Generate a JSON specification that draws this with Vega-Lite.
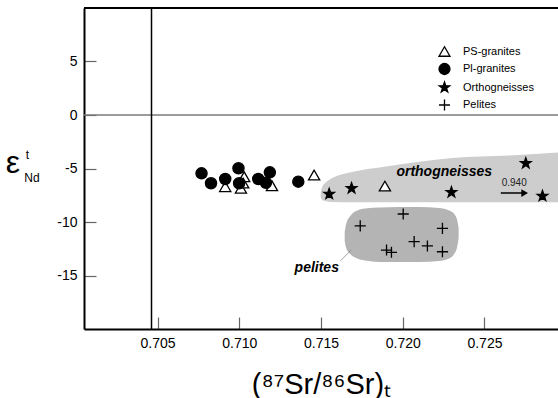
{
  "$schema": "https://vega.github.io/schema/vega-lite/v6.json",
  "width": 474,
  "height": 321,
  "autosize": {"type": "none"},
  "padding": {"left": 84, "top": 8, "right": 0, "bottom": 69},
  "background": "white",
  "config": {
    "view": {"stroke": null},
    "font": "Liberation Sans",
    "axis": {
      "domainColor": "black",
      "domainWidth": 2,
      "tickColor": "#666666",
      "tickWidth": 1.2,
      "tickSize": -12,
      "ticks": true,
      "labelFontSize": 14,
      "labelColor": "black",
      "labelFont": "Liberation Sans",
      "grid": false
    }
  },
  "datasets": {
    "band": [
      {"x": 0.71498, "y": -7.29, "y2": -7.66},
      {"x": 0.71507, "y": -6.73, "y2": -7.94},
      {"x": 0.71532, "y": -6.26, "y2": -8.06},
      {"x": 0.71569, "y": -5.89, "y2": -8.13},
      {"x": 0.71691, "y": -5.33, "y2": -8.15},
      {"x": 0.71899, "y": -4.81, "y2": -8.15},
      {"x": 0.72303, "y": -4.02, "y2": -8.15},
      {"x": 0.72712, "y": -3.74, "y2": -8.15},
      {"x": 0.7295, "y": -3.5, "y2": -8.15}
    ],
    "blob": [
      {"x": 0.71645, "y": -10.93, "y2": -11.78},
      {"x": 0.71654, "y": -10.19, "y2": -12.43},
      {"x": 0.71679, "y": -9.44, "y2": -12.99},
      {"x": 0.71715, "y": -8.97, "y2": -13.36},
      {"x": 0.7177, "y": -8.74, "y2": -13.6},
      {"x": 0.71856, "y": -8.64, "y2": -13.74},
      {"x": 0.721, "y": -8.6, "y2": -13.74},
      {"x": 0.72222, "y": -8.69, "y2": -13.64},
      {"x": 0.72284, "y": -8.93, "y2": -13.41},
      {"x": 0.72315, "y": -9.25, "y2": -12.99},
      {"x": 0.72333, "y": -9.81, "y2": -12.34},
      {"x": 0.72342, "y": -10.56, "y2": -11.5}
    ],
    "points": [
      {"type": "PS-granites", "x": 0.70914, "y": -6.7},
      {"type": "PS-granites", "x": 0.7103, "y": -5.77},
      {"type": "PS-granites", "x": 0.7101, "y": -6.85},
      {"type": "PS-granites", "x": 0.71024, "y": -6.36},
      {"type": "PS-granites", "x": 0.712, "y": -6.61},
      {"type": "PS-granites", "x": 0.71458, "y": -5.61},
      {"type": "PS-granites", "x": 0.71891, "y": -6.64},
      {"type": "Pl-granites", "x": 0.70769, "y": -5.45},
      {"type": "Pl-granites", "x": 0.70827, "y": -6.38},
      {"type": "Pl-granites", "x": 0.70914, "y": -5.98},
      {"type": "Pl-granites", "x": 0.70995, "y": -4.98},
      {"type": "Pl-granites", "x": 0.70999, "y": -6.38},
      {"type": "Pl-granites", "x": 0.71116, "y": -5.98},
      {"type": "Pl-granites", "x": 0.71187, "y": -5.36},
      {"type": "Pl-granites", "x": 0.71163, "y": -6.33},
      {"type": "Pl-granites", "x": 0.71361, "y": -6.23},
      {"type": "Orthogneisses", "x": 0.7155, "y": -7.38},
      {"type": "Orthogneisses", "x": 0.71687, "y": -6.85},
      {"type": "Orthogneisses", "x": 0.72298, "y": -7.22},
      {"type": "Orthogneisses", "x": 0.72753, "y": -4.51},
      {"type": "Orthogneisses", "x": 0.72855, "y": -7.57},
      {"type": "Pelites", "x": 0.72003, "y": -9.25},
      {"type": "Pelites", "x": 0.7174, "y": -10.37},
      {"type": "Pelites", "x": 0.72243, "y": -10.59},
      {"type": "Pelites", "x": 0.7207, "y": -11.84},
      {"type": "Pelites", "x": 0.72151, "y": -12.24},
      {"type": "Pelites", "x": 0.71901, "y": -12.62},
      {"type": "Pelites", "x": 0.71931, "y": -12.83},
      {"type": "Pelites", "x": 0.72243, "y": -12.78}
    ],
    "labels": [
      {"text": "orthogneisses", "x": 0.72254, "y": -5.3},
      {"text": "pelites", "x": 0.71474, "y": -14.3}
    ]
  },
  "layer": [
    {
      "data": {"name": "band"},
      "mark": {"type": "area", "interpolate": "monotone", "fill": "#cdcdcd", "opacity": 1},
      "encoding": {
        "x": {
          "field": "x", "type": "quantitative",
          "scale": {"domain": [0.7005, 0.7295], "nice": false, "zero": false},
          "axis": {
            "values": [0.705, 0.71, 0.715, 0.72, 0.725],
            "format": ".3f",
            "labelPadding": 19,
            "title": "(⁸⁷Sr/⁸⁶Sr)ₜ",
            "titleFont": "Liberation Sans",
            "titleFontSize": 29,
            "titleFontWeight": "normal",
            "titleColor": "black",
            "titleBaseline": "alphabetic",
            "titleY": 64
          }
        },
        "y": {
          "field": "y", "type": "quantitative",
          "scale": {"domain": [-20, 10], "nice": false, "zero": false},
          "axis": {
            "values": [5, 0, -5, -10, -15],
            "labelExpr": "'' + datum.value",
            "labelPadding": 19,
            "title": null
          }
        },
        "y2": {"field": "y2"}
      }
    },
    {
      "data": {"name": "blob"},
      "mark": {"type": "area", "interpolate": "monotone", "fill": "#b4b4b4", "opacity": 1},
      "encoding": {
        "x": {"field": "x", "type": "quantitative"},
        "y": {"field": "y", "type": "quantitative"},
        "y2": {"field": "y2"}
      }
    },
    {
      "data": {"values": [{"y": 0}]},
      "mark": {"type": "rule", "color": "#7a7a7a", "strokeWidth": 1.5},
      "encoding": {"y": {"field": "y", "type": "quantitative"}}
    },
    {
      "data": {"values": [{"x": 0.70463}]},
      "mark": {"type": "rule", "color": "black", "strokeWidth": 1.5},
      "encoding": {"x": {"field": "x", "type": "quantitative"}}
    },
    {
      "data": {"values": [{"y": 10}]},
      "mark": {"type": "rule", "color": "black", "strokeWidth": 2},
      "encoding": {"y": {"field": "y", "type": "quantitative"}}
    },
    {
      "data": {"values": [{"x": 0.71618, "y": -13.64, "x2": 0.71685, "y2": -12.62}]},
      "mark": {"type": "rule", "color": "#888888", "strokeWidth": 0.8},
      "encoding": {
        "x": {"field": "x", "type": "quantitative"},
        "y": {"field": "y", "type": "quantitative"},
        "x2": {"field": "x2"},
        "y2": {"field": "y2"}
      }
    },
    {
      "data": {"name": "points"},
      "mark": {"type": "point", "stroke": "black", "strokeWidth": 1.3, "size": 125, "opacity": 1},
      "encoding": {
        "x": {"field": "x", "type": "quantitative"},
        "y": {"field": "y", "type": "quantitative"},
        "shape": {
          "field": "type", "type": "nominal",
          "scale": {
            "domain": ["PS-granites", "Pl-granites", "Orthogneisses", "Pelites"],
            "range": ["triangle-up", "circle", "M0,-1L0.235,-0.324L0.951,-0.309L0.38,0.124L0.588,0.809L0,0.4L-0.588,0.809L-0.38,0.124L-0.951,-0.309L-0.235,-0.324Z", "M-1,0L1,0M0,-1L0,1"]
          },
          "legend": {
            "title": null,
            "orient": "none",
            "legendX": 354,
            "legendY": 37,
            "padding": 0,
            "labelFontSize": 11,
            "labelFont": "Liberation Sans",
            "labelColor": "black",
            "labelOffset": 12,
            "rowPadding": 1.5,
            "symbolSize": 120,
            "symbolStrokeColor": "black",
            "symbolStrokeWidth": 1.3,
            "symbolOpacity": 1,
            "encode": {"symbols": {"update": {"stroke": {"value": "black"}, "strokeWidth": {"value": 1.3}}}}
          }
        },
        "fill": {
          "field": "type", "type": "nominal",
          "scale": {
            "domain": ["PS-granites", "Pl-granites", "Orthogneisses", "Pelites"],
            "range": ["white", "black", "black", "transparent"]
          },
          "legend": {
            "title": null,
            "orient": "none",
            "legendX": 354,
            "legendY": 37,
            "padding": 0,
            "labelFontSize": 11,
            "labelFont": "Liberation Sans",
            "labelColor": "black",
            "labelOffset": 12,
            "rowPadding": 1.5,
            "symbolSize": 120,
            "symbolStrokeColor": "black",
            "symbolStrokeWidth": 1.3,
            "symbolOpacity": 1,
            "encode": {"symbols": {"update": {"stroke": {"value": "black"}, "strokeWidth": {"value": 1.3}}}}
          }
        }
      }
    },
    {
      "data": {"name": "labels"},
      "mark": {"type": "text", "fontSize": 14, "fontWeight": "bold", "fontStyle": "italic", "font": "Liberation Sans", "color": "black", "baseline": "middle", "align": "center"},
      "encoding": {
        "x": {"field": "x", "type": "quantitative"},
        "y": {"field": "y", "type": "quantitative"},
        "text": {"field": "text"}
      }
    },
    {
      "data": {"values": [{"text": "0.940", "x": 0.72682, "y": -6.31}]},
      "mark": {"type": "text", "fontSize": 10, "font": "Liberation Sans", "color": "#222222", "baseline": "middle", "align": "center"},
      "encoding": {
        "x": {"field": "x", "type": "quantitative"},
        "y": {"field": "y", "type": "quantitative"},
        "text": {"field": "text"}
      }
    },
    {
      "data": {"values": [{"x": 0.726, "x2": 0.72735, "y": -7.29}]},
      "mark": {"type": "rule", "color": "black", "strokeWidth": 1.5},
      "encoding": {
        "x": {"field": "x", "type": "quantitative"},
        "x2": {"field": "x2"},
        "y": {"field": "y", "type": "quantitative"}
      }
    },
    {
      "data": {"values": [{"x": 0.72746, "y": -7.29}]},
      "mark": {"type": "point", "shape": "triangle-right", "filled": true, "color": "black", "size": 60, "opacity": 1},
      "encoding": {
        "x": {"field": "x", "type": "quantitative"},
        "y": {"field": "y", "type": "quantitative"}
      }
    },
    {
      "data": {"values": [
        {"text": "ε", "x": 0.69572, "y": -5.42, "size": 32},
        {"text": "Nd", "x": 0.69685, "y": -6.26, "size": 12},
        {"text": "t", "x": 0.69693, "y": -4.11, "size": 12}
      ]},
      "mark": {"type": "text", "font": "Liberation Sans", "color": "black", "baseline": "alphabetic", "align": "left"},
      "encoding": {
        "x": {"field": "x", "type": "quantitative"},
        "y": {"field": "y", "type": "quantitative"},
        "text": {"field": "text"},
        "size": {"field": "size", "type": "quantitative", "scale": null, "legend": null}
      }
    }
  ]
}
